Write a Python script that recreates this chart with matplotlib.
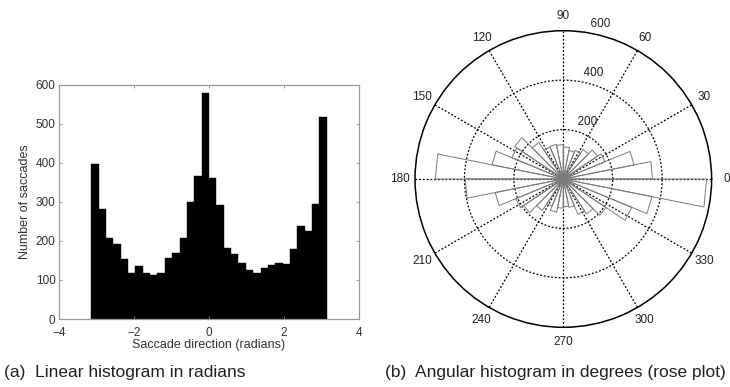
import numpy as np
import matplotlib
matplotlib.use("Agg")
import matplotlib.pyplot as plt

# ---- data ----
counts = [397, 281, 208, 193, 153, 119, 137, 118, 112, 117, 155, 170, 208, 300, 366, 580,
          361, 292, 183, 166, 144, 125, 118, 130, 139, 143, 140, 178, 237, 226, 294, 518]
n_bins = 32
x_ticks = [-4, -2, 0, 2, 4]
y_ticks = [0, 100, 200, 300, 400, 500, 600]
angle_ticks = [0, 30, 60, 90, 120, 150, 180, 210, 240, 270, 300, 330]
r_ticks = [200, 400, 600]
r_max = 600

edges = np.linspace(-np.pi, np.pi, n_bins + 1)

plt.rcParams['font.family'] = ['Liberation Sans', 'DejaVu Sans']

W, H = 730, 387
fig = plt.figure(figsize=(W / 100, H / 100), dpi=100)

# ---- (a) linear histogram ----
ax1 = fig.add_axes([59 / W, (H - 319) / H, 300 / W, 234.3 / H])
ax1.bar(edges[:-1], counts, width=np.diff(edges), align='edge',
        color='black', edgecolor='black', linewidth=0.3)
ax1.set_xlim(-4, 4)
ax1.set_ylim(0, 600)
ax1.set_xticks(x_ticks)
ax1.set_xticklabels(['\u22124', '\u22122', '0', '2', '4'])
ax1.set_yticks(y_ticks)
ax1.tick_params(direction='in', top=True, right=True, length=2.5, width=0.6,
                color='#888888', labelsize=8.5, labelcolor='#333333', pad=1.5)
ax1.tick_params(axis='x', pad=5.5)
ax1.tick_params(axis='y', pad=2.5)
for s in ax1.spines.values():
    s.set_color('#999999')
    s.set_linewidth(0.9)
ax1.set_xlabel('Saccade direction (radians)', fontsize=9, color='#333333', labelpad=0.5)
ax1.set_ylabel('Number of saccades', fontsize=9, color='#333333', labelpad=3)

# ---- (b) rose plot ----
R = 148.3
cx, cy = 563.3, 179.0
ax2 = fig.add_axes([(cx - R) / W, (H - cy - R) / H, 2 * R / W, 2 * R / H], projection='polar')
ax2.set_theta_zero_location('E')
ax2.set_ylim(0, r_max)
ax2.set_yticks(r_ticks[:-1])
ax2.set_yticklabels([])
ax2.set_xticks(np.deg2rad(angle_ticks))
ax2.set_xticklabels([])
ax2.grid(True, color='black', linestyle=(0, (1.5, 1.5)), linewidth=0.9)
ax2.spines['polar'].set_color('black')
ax2.spines['polar'].set_linewidth(1.1)
ax2.tick_params(length=0)

for e0, e1, c in zip(edges[:-1], edges[1:], counts):
    ax2.plot([e0, e0, e1, e1], [0, c, c, 0], color='#7a7a7a', linewidth=0.7)

for a in angle_ticks:
    ax2.text(np.deg2rad(a), 1.1 * r_max, str(a), ha='center', va='center',
             fontsize=8.5, color='#222222')
for r in r_ticks:
    ax2.text(np.deg2rad(82), r + 10, '  ' + str(r), ha='left', va='bottom',
             fontsize=8.5, color='#222222')

# ---- captions ----
fig.text(4 / W, 1 - 373 / H, '(a)  Linear histogram in radians', fontsize=12.5,
         color='#222222', va='center', ha='left')
fig.text(385 / W, 1 - 373 / H, '(b)  Angular histogram in degrees (rose plot)', fontsize=12.5,
         color='#222222', va='center', ha='left')

fig.savefig('out.png', dpi=100)
